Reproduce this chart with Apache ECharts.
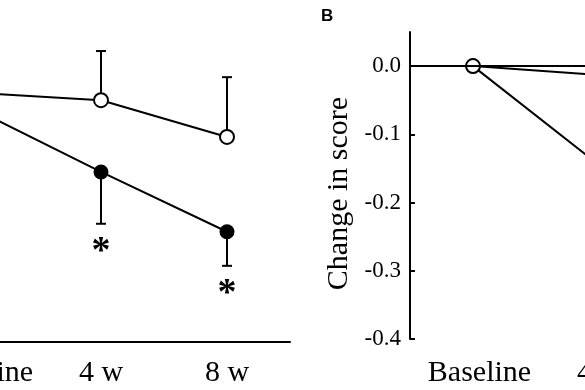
<!DOCTYPE html>
<html>
<head>
<meta charset="utf-8">
<script src="https://cdn.jsdelivr.net/npm/echarts@6/dist/echarts.min.js"></script>
<style>
html,body{margin:0;padding:0;background:#fff;}
#chart{width:585px;height:390px;}
</style>
</head>
<body>
<div id="chart"></div>
<script>
// ---- data ----
const categories = ['Baseline', '4 w', '8 w'];
// Panel A (absolute score)
const openA = [0.763, 0.746, 0.663];
const openAUpper = [null, 0.857, 0.798];
const filledA = [0.726, 0.584, 0.449];
const filledALower = [null, 0.467, 0.372];
const filledASig = [false, true, true];
// Panel B (change in score)
const openB = [0, -0.013, -0.10];
const filledB = [0, -0.145, -0.28];
const yTicksB = [-0.4, -0.3, -0.2, -0.1, 0.0];

const SERIF = '"Liberation Serif", "Times New Roman", serif';

function errRows(vals, ends, sig) {
  const rows = [];
  vals.forEach((v, i) => {
    if (ends[i] != null) rows.push([i, v, ends[i], sig && sig[i] ? 1 : 0]);
  });
  return rows;
}

function renderErr(params, api) {
  const x = api.value(0), v = api.value(1), e = api.value(2), s = api.value(3);
  const p = api.coord([x, v]);
  const q = api.coord([x, e]);
  const children = [
    { type: 'line', shape: { x1: p[0], y1: p[1], x2: q[0], y2: q[1] }, style: { stroke: '#000', lineWidth: 2 } },
    { type: 'line', shape: { x1: q[0] - 5, y1: q[1], x2: q[0] + 5, y2: q[1] }, style: { stroke: '#000', lineWidth: 2 } }
  ];
  if (s) {
    children.push({ type: 'text', style: { text: '*', x: q[0], y: q[1] + 9, font: 'bold 38px ' + SERIF, textAlign: 'center', textVerticalAlign: 'top', fill: '#000' } });
  }
  return { type: 'group', children: children };
}

const catLabel = {
  interval: 0, color: '#000', fontFamily: SERIF, fontSize: 30,
  formatter: v => (v === 'Baseline' ? '{b|' + v + '}' : v),
  rich: { b: { fontFamily: SERIF, fontSize: 30, color: '#000', padding: [0, 0, 0, 13] } }
};

const chart = echarts.init(document.getElementById('chart'));
chart.setOption({
  animation: false,
  backgroundColor: '#fff',
  grid: [
    { left: -88, width: 378, top: 32, bottom: 48, containLabel: false, outerBoundsMode: 'none' },
    { left: 410, width: 378, top: 32, bottom: 51, containLabel: false, outerBoundsMode: 'none' }
  ],
  xAxis: [
    { type: 'category', gridIndex: 0, data: categories, boundaryGap: true,
      axisLine: { lineStyle: { color: '#000', width: 2 } }, axisTick: { show: false },
      axisLabel: Object.assign({}, catLabel, { margin: 16 }) },
    { type: 'category', gridIndex: 1, data: categories, boundaryGap: true,
      axisLine: { show: false }, axisTick: { show: false },
      axisLabel: Object.assign({}, catLabel, { margin: 19 }) }
  ],
  yAxis: [
    { type: 'value', gridIndex: 0, min: 0.2, max: 0.9, show: false },
    { type: 'value', gridIndex: 1, min: yTicksB[0], max: 0.05,
      axisLine: { show: true, lineStyle: { color: '#000', width: 2 } },
      axisTick: { show: true, inside: true, length: 5, customValues: yTicksB, lineStyle: { color: '#000', width: 2 } },
      splitLine: { show: false },
      axisLabel: { color: '#000', fontFamily: SERIF, fontSize: 23, margin: 9, customValues: yTicksB,
        formatter: v => (Math.abs(v) < 1e-9 ? '0.0' : v.toFixed(1)) },
      name: 'Change in score', nameLocation: 'middle', nameGap: 50,
      nameTextStyle: { color: '#000', fontFamily: SERIF, fontSize: 30, padding: [0, 16, 0, 0] } }
  ],
  graphic: [
    { type: 'text', left: 321, top: 8, style: { text: 'B', font: 'bold 17px "Liberation Sans", Arial, sans-serif', fill: '#000' } }
  ],
  series: [
    { type: 'custom', xAxisIndex: 0, yAxisIndex: 0, z: 1, renderItem: renderErr,
      data: errRows(openA, openAUpper, null) },
    { type: 'custom', xAxisIndex: 0, yAxisIndex: 0, z: 1, renderItem: renderErr,
      data: errRows(filledA, filledALower, filledASig) },
    { type: 'line', xAxisIndex: 0, yAxisIndex: 0, z: 3, data: filledA,
      symbol: 'circle', symbolSize: 15, itemStyle: { color: '#000' },
      lineStyle: { color: '#000', width: 2 } },
    { type: 'line', xAxisIndex: 0, yAxisIndex: 0, z: 3, data: openA,
      symbol: 'emptyCircle', symbolSize: 14, itemStyle: { color: '#000', borderWidth: 2 },
      lineStyle: { color: '#000', width: 2 } },
    { type: 'line', xAxisIndex: 1, yAxisIndex: 1, z: 3, data: filledB,
      symbol: 'circle', symbolSize: 15, itemStyle: { color: '#000' },
      lineStyle: { color: '#000', width: 2 },
      markLine: { silent: true, symbol: 'none', label: { show: false },
        lineStyle: { color: '#000', width: 2, type: 'solid' }, data: [{ yAxis: 0 }] } },
    { type: 'line', xAxisIndex: 1, yAxisIndex: 1, z: 4, data: openB,
      symbol: 'emptyCircle', symbolSize: 14, itemStyle: { color: '#000', borderWidth: 2 },
      lineStyle: { color: '#000', width: 2 } }
  ]
});
</script>
</body>
</html>
